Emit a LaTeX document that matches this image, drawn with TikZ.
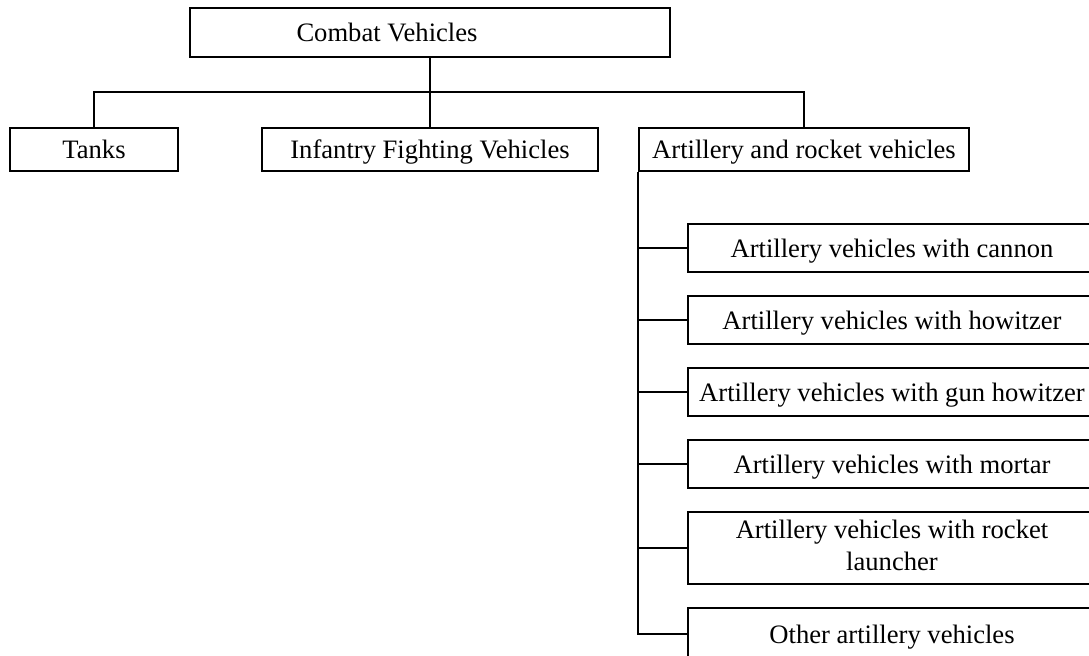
\documentclass[tikz,border=0pt]{standalone}
\usepackage{fontspec}
\setmainfont{Liberation Serif}
\usepackage{tikz}

\tikzset{
  box/.style={draw, rectangle, line width=0.9pt, inner sep=0pt, align=center,
    font=\fontsize{13.3}{16}\selectfont, execute at begin node=\rule[-3pt]{0pt}{15pt}},
  twoline/.style={execute at begin node={}},
  link/.style={line width=0.9pt}
}

\begin{document}
\begin{tikzpicture}[x=0.5pt, y=-0.5pt]
      \useasboundingbox (0, 0) rectangle (1089, 655);
      \clip (0, 0) rectangle (1089, 655);

      % top level
      \node [box, minimum width=240pt, minimum height=24.5pt] (combat) at (430, 32.5)
        {Combat Vehicles\hspace*{43pt}};

      % second level
      \node [box, minimum width=84pt, minimum height=21.5pt] (tanks) at (94, 149.5) {Tanks};
      \node [box, minimum width=168pt, minimum height=21.5pt] (ifv) at (430, 149.5) {Infantry Fighting Vehicles};
      \node [box, minimum width=165pt, minimum height=21.5pt] (arv) at (804, 149.5) {Artillery and rocket vehicles};

      \coordinate (bus) at (430, 92);
      \draw [link] (combat.south) -- (ifv.north);
      \draw [link] (tanks.north) |- (bus) -| (arv.north);

      % artillery subtypes
      \node [box, minimum width=204pt, minimum height=24pt] (cannon) at (892, 248) {Artillery vehicles with cannon};
      \node [box, minimum width=204pt, minimum height=24pt] (howitzer) at (892, 320) {Artillery vehicles with howitzer};
      \node [box, minimum width=204pt, minimum height=24pt] (gunhow) at (892, 392) {Artillery vehicles with gun howitzer};
      \node [box, minimum width=204pt, minimum height=24pt] (mortar) at (892, 464) {Artillery vehicles with mortar};
      \node [box, twoline, minimum width=204pt, minimum height=36pt] (rocket) at (892, 548) {Artillery vehicles with rocket\\launcher};
      \node [box, minimum width=204pt, minimum height=26pt] (other) at (892, 634) {Other artillery vehicles};

      \draw [link] (arv.south west) |- (other.west);
      \foreach \n in {cannon, howitzer, gunhow, mortar, rocket}
        \draw [link] (arv.south west |- \n.west) -- (\n.west);
\end{tikzpicture}
\end{document}
